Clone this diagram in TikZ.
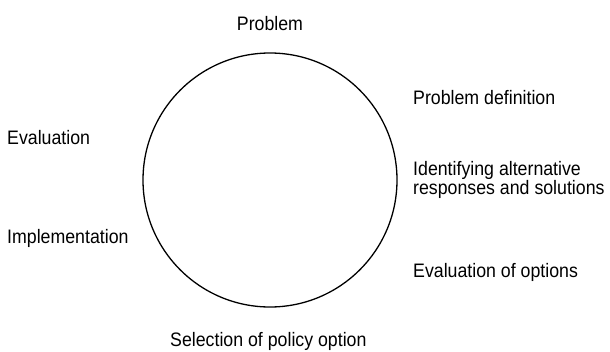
\documentclass[tikz,border=0pt]{standalone}
\usepackage{fontspec}
\setmainfont{Liberation Sans}[FakeStretch=0.91]
\usepackage{tikz}

\begin{document}
\begin{tikzpicture}[x=1pt, y=-1pt, every node/.style={inner sep=0pt}]
    \fontsize{19.5}{18}\selectfont

    \useasboundingbox (0,0) rectangle (610,351);

    \node[draw, circle, line width=1.3pt, minimum size=254pt] (cycle) at (270,180) {};

    \node[anchor=base] (problem) at (270,30) {Problem};

    \node[anchor=base west] (problemDef) at (413,104) {Problem definition};

    \node[anchor=west, align=left] (identifyAlt) at (413,180)
      {Identifying alternative \\ responses and solutions};

    \node[anchor=base west] (evalOptions) at (413,277) {Evaluation of options};

    \node[anchor=base west] (selection) at (170,346) {Selection of policy option};

    \node[anchor=base west] (implementation) at (7,243) {Implementation};

    \node[anchor=base west] (evaluation) at (7,144) {Evaluation};
  \end{tikzpicture}
\end{document}
